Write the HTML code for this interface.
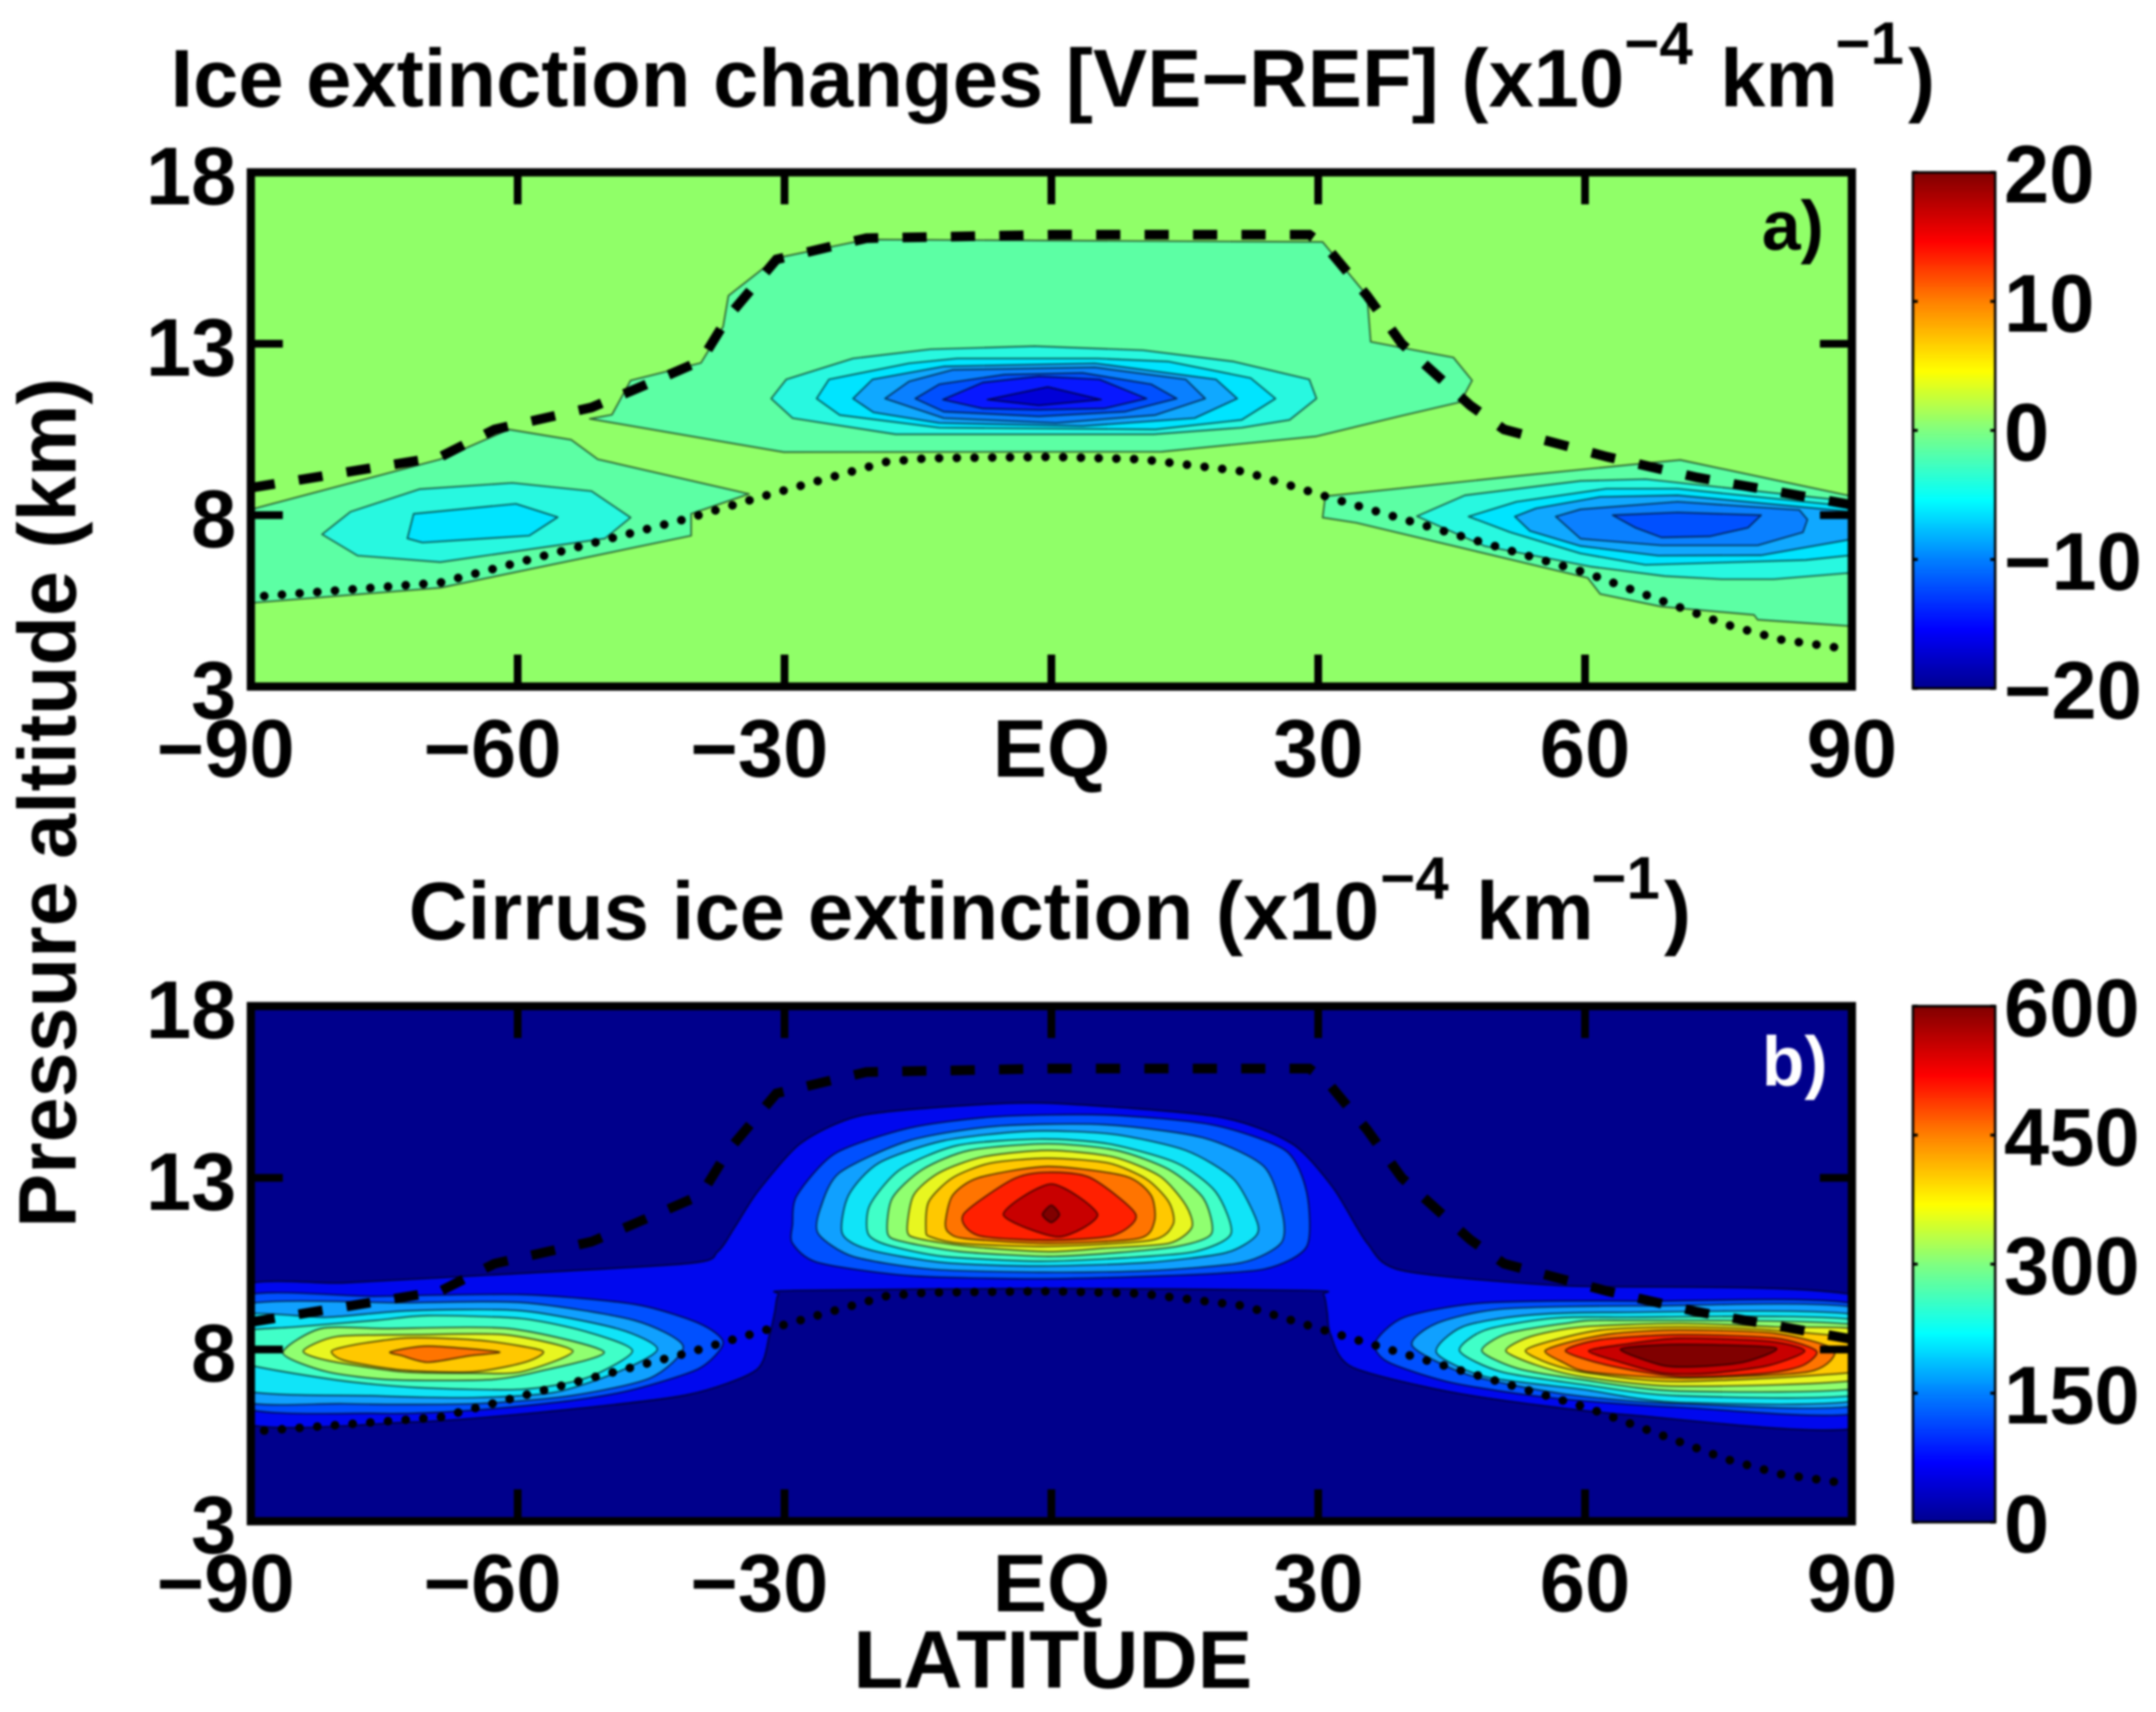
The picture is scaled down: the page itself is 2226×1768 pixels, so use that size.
<!DOCTYPE html>
<html lang="en">
<head>
<meta charset="utf-8">
<title>Ice extinction changes and cirrus ice extinction</title>
<style>
html,body{margin:0;padding:0;background:#fff;width:2226px;height:1768px;overflow:hidden}
svg{display:block;filter:blur(1.1px)}
text{font-family:"Liberation Sans",sans-serif;font-weight:bold;fill:#000;font-size:84px}
.sup{font-size:62px}
</style>
</head>
<body>
<svg id="figure" xmlns="http://www.w3.org/2000/svg" width="2226" height="1768" viewBox="0 0 2226 1768">
  <defs>
    <linearGradient id="jet" x1="0" y1="0" x2="0" y2="1">
      <stop offset="0" stop-color="#800000"/>
      <stop offset="0.135" stop-color="#ff0000"/>
      <stop offset="0.25" stop-color="#ff8000"/>
      <stop offset="0.385" stop-color="#ffff00"/>
      <stop offset="0.5" stop-color="#80ff80"/>
      <stop offset="0.635" stop-color="#00ffff"/>
      <stop offset="0.75" stop-color="#0080ff"/>
      <stop offset="0.885" stop-color="#0000ff"/>
      <stop offset="1" stop-color="#00008f"/>
    </linearGradient>
    <clipPath id="clip-a"><rect x="259" y="178" width="1653" height="531"/></clipPath>
    <clipPath id="clip-b"><rect x="259" y="1039" width="1653" height="532"/></clipPath>
  </defs>

  <g id="panel-a"></g>
  <g id="panel-b"></g>

  <g>
    <text x="176" y="110" textLength="1501" lengthAdjust="spacingAndGlyphs">Ice extinction changes [VE−REF] (x10</text>
    <text class="sup" x="1677" y="66">−4</text>
    <text x="1776" y="110">km</text>
    <text class="sup" x="1895" y="66">−1</text>
    <text x="1970" y="110">)</text>
  </g>
  <g>
    <text x="422" y="970" textLength="1002" lengthAdjust="spacingAndGlyphs">Cirrus ice extinction (x10</text>
    <text class="sup" x="1425" y="928">−4</text>
    <text x="1524" y="970">km</text>
    <text class="sup" x="1643" y="928">−1</text>
    <text x="1718" y="970">)</text>
  </g>
  <text transform="translate(78,1268) rotate(-90)" textLength="878" lengthAdjust="spacingAndGlyphs">Pressure altitude (km)</text>
  <text x="881" y="1743" textLength="412" lengthAdjust="spacingAndGlyphs">LATITUDE</text>
  <text x="1819" y="258" style="font-size:72px">a)</text>
  <text x="1819" y="1121" style="font-size:72px;fill:#fff">b)</text>
</svg>

<script>
// ---- axis values and labels ----
const latTicks = [-60, -30, 0, 30, 60];
const altTicks = [13, 8];
const latLabelValues = [-90, -60, -30, 0, 30, 60, 90];
const latLabelText = ['−90', '−60', '−30', 'EQ', '30', '60', '90'];
const altLabelValues = [18, 13, 8, 3];
const colorbarTicksA = [20, 10, 0, -10, -20];
const colorbarLabelsA = ['20', '10', '0', '−10', '−20'];
const colorbarTicksB = [600, 450, 300, 150, 0];
const colorbarLabelsB = ['600', '450', '300', '150', '0'];

// ---- reference lines (latitude degrees, altitude km) ----
const dashedLat = [-90, -68.7, -62.6, -51.7, -47, -39.4, -36.3, -30.9, -20.8, 0, 29, 31, 35.5, 39.4, 47.1, 50.9, 62.5, 72.6, 90];
const dashedAlt = [8.8, 9.7, 10.5, 11.14, 11.65, 12.5, 13.8, 15.46, 16.08, 16.18, 16.18, 15.8, 14.4, 13.0, 11.2, 10.5, 9.7, 9.1, 8.3];
const dottedLat = [-88.5, -68.7, -40.9, -32.4, -18.5, -13.9, 0, 10.1, 21.7, 31.7, 60.2, 76, 82, 88];
const dottedAlt = [5.64, 6.03, 7.9, 8.55, 9.56, 9.66, 9.7, 9.63, 9.27, 8.48, 6.31, 4.8, 4.37, 4.15];

// ---- panel a contours: flat lat,alt pairs, one list per level ----
const levelsATropics = [-2, -4, -6, -8, -10, -12, -14, -16];
const ringsATropics = [
 [-51.9,10.81,-49.4,10.93,-47.3,11.93,-39.4,12.44,-36.9,13.5,-36.3,14.4,-30.9,15.5,-20.8,16.04,30.5,15.97,35.5,14.4,35.9,13.06,45.2,12.6,47.3,11.93,46,11.3,39.4,10.9,29.8,10.3,12.4,9.85,-30.1,9.84],
 [-31.5,11.4,-29.8,11.96,-22.3,12.57,-13.6,12.84,-1.9,12.93,10.3,12.81,20.5,12.48,29,11.96,29.8,11.4,26.8,10.78,21.4,10.55,11.5,10.36,-17.5,10.36,-29.1,10.83],
 [-26.4,11.4,-25,11.96,-16,12.43,-10.6,12.57,5.2,12.57,13.2,12.48,22.4,12.0,25.2,11.4,21.4,10.78,11.7,10.5,-12.6,10.55,-23.8,10.92],
 [-22.3,11.4,-20.1,11.96,-12.1,12.34,4.9,12.43,18.5,11.96,20.9,11.4,16.1,10.83,3.5,10.6,-12.6,10.69,-20,11.0],
 [-18.7,11.4,-16,11.9,-11.1,12.24,4.9,12.31,15.1,11.96,17.3,11.4,11.7,10.92,0.5,10.69,-12.1,10.83],
 [-15.3,11.4,-12.6,11.82,-5.3,12.1,3.5,12.15,11.2,11.82,14.1,11.4,8.3,11.02,-1.4,10.88,-12.1,11.02],
 [-12.2,11.37,-7.7,11.87,-1.4,12.05,5.4,11.96,10.7,11.4,5.9,11.11,-1.4,11.07,-7.7,11.11],
 [-7.2,11.37,-0.4,11.74,5.6,11.37,-1.4,11.2]
];
const levelsASouth = [-2, -4, -6];
const ringsASouth = [
 [-90,8.1,-89.5,8.2,-68.7,9.63,-61,10.5,-54,10.2,-51,9.63,-34,8.62,-40.5,8.04,-40.5,7.4,-68.7,5.88,-89.5,5.45,-90,5.45],
 [-82,7.44,-78.8,8.1,-71,8.76,-60.6,8.94,-51.7,8.7,-47.3,7.93,-50.2,7.32,-68.7,6.63,-78,6.82],
 [-72.4,7.32,-71.7,8.04,-60.2,8.33,-55.5,7.94,-58.7,7.4,-70.7,7.2]
];
const levelsANorth = [-2, -4, -6, -8, -10, -12];
const ringsANorth = [
 [30.8,8.55,52.3,9.14,65,9.47,70.7,9.61,90,8.55,90,4.76,79.4,4.95,79,5.09,68.6,5.33,61.7,5.7,60.3,6.17,34.25,7.78,30.5,7.93],
 [41.1,7.97,46.5,8.58,59.5,9.0,66.8,9.05,90,8.4,90,6.32,81.2,6.13,75.4,6.13,69,6.22,60.6,6.5,48.7,7.1],
 [46.9,7.96,52.3,8.39,62.4,8.77,70.4,8.77,90,8.25,90,6.83,84.8,6.69,66.8,6.55,59.5,6.88,51.6,7.5],
 [52.1,7.96,54.5,8.2,61.7,8.53,70.4,8.58,90,8.1,90,7.3,79.8,6.83,68.2,6.82,59.5,7.1,53.8,7.54],
 [56.7,7.96,59.5,8.17,70.4,8.39,84.1,8.15,85,7.87,84.5,7.5,79.4,7.12,68.6,7.12,59.5,7.31],
 [63.1,8.0,70.4,8.08,79.8,8.0,78.3,7.63,74,7.38,68.6,7.35,65.7,7.63]
];

// ---- panel b contours ----
const levelsBOuter = [50];
const ringsBOuter = [
 [-92,9.7,-79.6,9.94,-68,10.1,-41,10.5,-37.5,10.85,-35.5,11.6,-33,12.6,-28.2,14,-21.6,14.8,-10,15.1,0,15.17,18.6,14.78,27,14,31.7,12.7,35.5,11.1,39.4,10.3,57.1,9.86,92,9.46,92,5.8,64.9,6.1,46.3,6.7,33.9,7.48,31.4,8.43,31,9.1,30.6,9.6,29,9.72,0,9.78,-29,9.72,-30.7,9.6,-31.1,9.1,-31.7,8.43,-33.2,7.4,-41,6.68,-56.4,6.2,-71.8,5.89,-92,5.97]
];
const levelsBTropics = [100, 150, 200, 250, 300, 350, 400, 450, 500, 550, 600];
const ringsBTropics = [
 [-29.1,11.65,-28.6,12.49,-24.3,13.71,-16,14.45,-6.3,14.78,5.9,14.83,18,14.55,26.3,13.8,28.7,12.58,28.7,11,23.9,10.34,13.2,10.15,-1.4,10.06,-16,10.15,-26.2,10.53,-29.1,11.09],
 [-26.2,11.37,-25.96,12.12,-23.8,13.15,-16,14.08,-6.3,14.5,5.9,14.55,17,14.17,23.9,13.33,26,11.93,25.8,11.09,21.4,10.53,10.7,10.29,-1.4,10.25,-13.6,10.34,-22.3,10.71],
 [-23.5,11.37,-22.8,12.49,-19.4,13.43,-12.1,14.08,-2.4,14.36,6.9,14.27,15.1,13.8,20.5,12.96,23.1,11.74,22.9,11.28,19.5,10.81,10.7,10.53,-1.4,10.43,-12.1,10.53,-20.4,10.9],
 [-20.6,11.37,-20.4,12.21,-17,13.24,-10.6,13.94,-1.4,14.13,6.4,13.99,14.1,13.43,18.5,12.58,20.2,11.37,16.1,10.85,8.3,10.67,-1.4,10.57,-12.1,10.71,-18.4,11.04],
 [-18.4,11.37,-17.9,12.4,-14.5,13.24,-9.2,13.8,-0.4,13.99,7.3,13.8,13.2,13.24,17.1,12.4,18,11.37,14.1,11,6.9,10.81,-0.4,10.71,-10.2,10.85,-16.5,11.13],
 [-16.2,11.46,-15.5,12.49,-12.6,13.15,-7.7,13.61,-0.4,13.8,6.9,13.61,12.2,13.05,15.1,12.21,15.8,11.56,13.2,11.09,5.9,10.95,-0.4,10.85,-9.2,11,-15,11.23],
 [-14.1,11.46,-13.8,12.3,-11.1,13,-6.8,13.43,-0.4,13.57,6.4,13.43,10.7,12.96,13.2,12.3,13.7,11.65,11.2,11.18,-0.4,11,-10.2,11.09,-13.6,11.28],
 [-11.9,11.74,-11.1,12.49,-8.2,13,-0.4,13.33,8.3,13.05,11.2,12.49,11.6,11.74,9.8,11.23,-0.4,11.09,-9.7,11.23,-11.6,11.42],
 [-9.9,11.93,-4.3,12.96,-0.4,13.16,4.4,13,9.5,11.93,6.9,11.32,-0.4,11.18,-8.2,11.32],
 [-5.4,11.93,0,12.82,5.2,11.93,0.8,11.28],
 [-1,11.93,0,12.2,0.9,11.93,0,11.7]
];
const levelsBSouth = [100, 150, 200, 250, 300, 350, 400, 450];
const ringsBSouth = [
 [-92,9.46,-75.9,9.55,-59.6,9.6,-46.9,9.32,-39.6,8.76,-36.9,8.2,-39.6,7.45,-46.9,6.84,-54.1,6.51,-65,6.23,-75.9,6.14,-92,6.42],
 [-92,9.22,-72.3,9.36,-59.2,9.36,-46.9,8.85,-41.4,8.1,-45.1,7.17,-54.1,6.65,-65,6.42,-79.5,6.42,-92,6.6],
 [-92,8.94,-81.4,8.94,-72.3,9.13,-59.6,9.13,-48.7,8.6,-44.3,8.01,-48.7,7.35,-55.9,6.75,-65,6.6,-75.9,6.65,-92,6.89],
 [-92,8.48,-85,8.66,-75.9,8.85,-70.1,8.99,-59.6,8.9,-52.3,8.52,-47.1,7.96,-52.3,7.17,-59.6,6.84,-71.2,6.89,-80.6,7.12,-92,7.68],
 [-86.4,7.9,-82.1,8.61,-74.8,8.61,-61,8.61,-50.3,7.93,-57.8,7.35,-63.2,7.12,-74.1,7.12,-81.4,7.35],
 [-84.1,7.96,-80.3,8.38,-71.2,8.43,-61.4,8.43,-53.8,7.96,-59.6,7.35,-65,7.31,-73,7.35,-81.4,7.68],
 [-80.9,7.96,-78.1,8.15,-73,8.33,-68.7,8.33,-63.2,8.24,-57.2,7.96,-59.2,7.63,-65,7.35,-73,7.4,-79.5,7.68],
 [-74.3,7.93,-70.1,8.1,-62.1,7.93,-65.4,7.82,-70.1,7.63,-73,7.82]
];
const levelsBNorth = [100, 150, 200, 250, 300, 350, 400, 450, 500, 550, 600];
const ringsBNorth = [
 [36.4,8.19,39.7,8.94,48.8,9.36,66.9,9.41,92,9.22,92,6.23,70.6,6.32,56,6.6,45.1,7.03,37.9,7.63],
 [40.6,8.1,43.3,8.76,50.6,9.18,66.9,9.27,92,9.13,92,6.46,70.6,6.42,57.8,6.7,46.9,7.26],
 [43.3,7.91,46.2,8.66,53.1,8.99,63.3,9.08,92,8.94,92,6.6,70.6,6.46,59.7,6.84,48.8,7.21],
 [45.9,7.96,48.8,8.57,56,8.9,63.3,8.94,92,8.8,92,6.75,70.6,6.65,59.7,6.98,50.6,7.35],
 [48.4,7.96,51.3,8.47,57.8,8.76,63.3,8.85,92,8.66,92,6.93,70.6,6.79,59.7,7.12,52.4,7.45],
 [51.1,7.96,53.9,8.38,59.7,8.66,70.6,8.76,81.4,8.66,92,8.52,92,7.17,70.6,6.93,59.7,7.21,54.6,7.54],
 [53.3,7.96,56,8.24,61.8,8.57,70.6,8.66,80.7,8.57,92,8.24,92,7.4,70.6,7.07,60.4,7.31,56,7.59],
 [55.5,7.96,58.6,8.24,63.3,8.47,70.6,8.57,81.4,8.47,88,8.0,85.1,7.35,70.6,7.17,60.4,7.35,57.5,7.63],
 [57.8,7.96,61.8,8.29,70.6,8.43,81.4,8.33,86,7.96,84.5,7.54,80.4,7.31,70.6,7.21,62.6,7.54],
 [60.4,7.96,64.4,8.15,70.6,8.33,80.7,8.24,84.7,7.96,80.7,7.54,74.2,7.31,68.7,7.31,64,7.63],
 [64,8.01,70.6,8.15,81.4,8.05,77.8,7.63,72.4,7.5,68.7,7.54]
];

// ---- level to colour lookups ----
const paletteLevelsA = [-2, -4, -6, -8, -10, -12, -14, -16];
const paletteColorsA = ['#5cffa4', '#28f8e0', '#00e4ff', '#10a8ff', '#0a80ff', '#0050ff', '#0818ff', '#0000d8'];
const paletteLevelsB = [50, 100, 150, 200, 250, 300, 350, 400, 450, 500, 550, 600];
const paletteColorsB = ['#0008ee', '#0050ff', '#10a0ff', '#10e4f8', '#40ffc8', '#90ff70', '#e8f620', '#ffc800', '#ff7400', '#ff2000', '#c80000', '#800000'];

// ---- axis functions ----
const plotLeft = 259, plotRight = 1912;
function xScale(lat) { return plotLeft + (lat + 90) / 180 * (plotRight - plotLeft); }
function yScaleA(alt) { return 709 - (alt - 3) / 15 * 531; }
function yScaleB(alt) { return 1571 - (alt - 3) / 15 * 532; }
function cbScaleA(v) { return 711 - (v + 20) / 40 * 533; }
function cbScaleB(v) { return 1572 - v / 600 * 533; }

const NS = 'http://www.w3.org/2000/svg';
function mk(tag, parent) {
  const el = document.createElementNS(NS, tag);
  parent.appendChild(el);
  return el;
}
function ringPath(pairs, yScale, smooth) {
  const pts = [];
  for (let i = 0; i < pairs.length; i += 2) pts.push([xScale(pairs[i]), yScale(pairs[i + 1])]);
  const n = pts.length;
  let d = 'M' + pts[0][0].toFixed(1) + ' ' + pts[0][1].toFixed(1);
  for (let i = 0; i < n; i++) {
    const p0 = pts[(i - 1 + n) % n], p1 = pts[i], p2 = pts[(i + 1) % n], p3 = pts[(i + 2) % n];
    if (smooth) {
      const k = 0.75 / 6;
      d += 'C' + (p1[0] + (p2[0] - p0[0]) * k).toFixed(1) + ' ' + (p1[1] + (p2[1] - p0[1]) * k).toFixed(1) + ' ' +
           (p2[0] - (p3[0] - p1[0]) * k).toFixed(1) + ' ' + (p2[1] - (p3[1] - p1[1]) * k).toFixed(1) + ' ' +
           p2[0].toFixed(1) + ' ' + p2[1].toFixed(1);
    } else {
      d += 'L' + p2[0].toFixed(1) + ' ' + p2[1].toFixed(1);
    }
  }
  return d + 'Z';
}
function linePath(lats, alts, yScale) {
  return lats.map(function (lat, i) {
    return (i ? 'L' : 'M') + xScale(lat).toFixed(1) + ' ' + yScale(alts[i]).toFixed(1);
  }).join('');
}

function drawRings(parent, levels, rings, yScale, smooth, palLevels, palColors) {
  rings.forEach(function (pairs, i) {
    const p = mk('path', parent);
    
    
    p.setAttribute('d', ringPath(pairs, yScale, smooth));
    p.setAttribute('fill', palColors[palLevels.indexOf(levels[i])]);
    p.setAttribute('stroke', '#000');
    p.setAttribute('stroke-opacity', '0.6');
    p.setAttribute('stroke-width', '1.7');
    p.setAttribute('stroke-linejoin', 'round');
  });
}

function drawPanel(root, clipId, bg, yScale, top, bottom, drawContours, cbScale, cbTicks, cbLabels) {
  // background
  const bgRect = mk('rect', root);
  
  
  bgRect.setAttribute('x', plotLeft);
  bgRect.setAttribute('y', top);
  bgRect.setAttribute('width', plotRight - plotLeft);
  bgRect.setAttribute('height', bottom - top);
  bgRect.setAttribute('fill', bg);

  const clip = mk('g', root);
  
  
  clip.setAttribute('clip-path', 'url(#' + clipId + ')');
  drawContours(clip);

  const dashed = mk('path', clip);
  
  
  dashed.setAttribute('d', linePath(dashedLat, dashedAlt, yScale));
  dashed.setAttribute('fill', 'none');
  dashed.setAttribute('stroke', '#000');
  dashed.setAttribute('stroke-width', '10');
  dashed.setAttribute('stroke-dasharray', '25 25');

  const dotted = mk('path', clip);
  
  
  dotted.setAttribute('d', linePath(dottedLat, dottedAlt, yScale));
  dotted.setAttribute('fill', 'none');
  dotted.setAttribute('stroke', '#000');
  dotted.setAttribute('stroke-width', '9');
  dotted.setAttribute('stroke-linecap', 'round');
  dotted.setAttribute('stroke-dasharray', '0.01 18.3');

  // inner ticks
  latTicks.forEach(function (lat) {
    [[top, top + 33], [bottom, bottom - 33]].forEach(function (ends) {
      const t = mk('line', root);
      
      
      t.setAttribute('x1', xScale(lat));
      t.setAttribute('x2', xScale(lat));
      t.setAttribute('y1', ends[0]);
      t.setAttribute('y2', ends[1]);
      t.setAttribute('stroke', '#000');
      t.setAttribute('stroke-width', '8');
    });
  });
  altTicks.forEach(function (alt) {
    [[plotLeft, plotLeft + 33], [plotRight, plotRight - 33]].forEach(function (ends) {
      const t = mk('line', root);
      
      
      t.setAttribute('x1', ends[0]);
      t.setAttribute('x2', ends[1]);
      t.setAttribute('y1', yScale(alt));
      t.setAttribute('y2', yScale(alt));
      t.setAttribute('stroke', '#000');
      t.setAttribute('stroke-width', '8');
    });
  });

  // frame
  const frame = mk('rect', root);
  
  
  frame.setAttribute('x', plotLeft);
  frame.setAttribute('y', top);
  frame.setAttribute('width', plotRight - plotLeft);
  frame.setAttribute('height', bottom - top);
  frame.setAttribute('fill', 'none');
  frame.setAttribute('stroke', '#000');
  frame.setAttribute('stroke-width', '8.5');

  // tick labels
  latLabelValues.forEach(function (lat, i) {
    const lb = mk('text', root);
    
    
    lb.setAttribute('x', xScale(lat) - (lat < 0 ? 26 : 0));
    lb.setAttribute('y', bottom + 93);
    lb.setAttribute('text-anchor', 'middle');
    lb.textContent = latLabelText[i];
  });
  altLabelValues.forEach(function (alt) {
    const lb = mk('text', root);
    
    
    lb.setAttribute('x', 244);
    lb.setAttribute('y', yScale(alt) + 33);
    lb.setAttribute('text-anchor', 'end');
    lb.textContent = String(alt);
  });

  // colorbar
  const cbTop = cbScale(cbTicks[0]);
  const cbBottom = cbScale(cbTicks[cbTicks.length - 1]);
  const cb = mk('rect', root);
  
  
  cb.setAttribute('x', 1975);
  cb.setAttribute('y', cbTop);
  cb.setAttribute('width', 85);
  cb.setAttribute('height', cbBottom - cbTop);
  cb.setAttribute('fill', 'url(#jet)');
  cb.setAttribute('stroke', '#000');
  cb.setAttribute('stroke-width', '2.5');
  cbTicks.forEach(function (v, i) {
    [[1975, 1980], [2060, 2055]].forEach(function (ends) {
      const t = mk('line', root);
      
      
      t.setAttribute('x1', ends[0]);
      t.setAttribute('x2', ends[1]);
      t.setAttribute('y1', cbScale(v));
      t.setAttribute('y2', cbScale(v));
      t.setAttribute('stroke', '#000');
      t.setAttribute('stroke-width', '3');
    });
    const lb = mk('text', root);
    
    
    lb.setAttribute('x', 2069);
    lb.setAttribute('y', cbScale(v) + 31);
    lb.textContent = cbLabels[i];
  });
}

drawPanel(document.getElementById('panel-a'), 'clip-a', '#90ff68', yScaleA, 178, 709, function (g) {
  drawRings(g, levelsATropics, ringsATropics, yScaleA, false, paletteLevelsA, paletteColorsA);
  drawRings(g, levelsASouth, ringsASouth, yScaleA, false, paletteLevelsA, paletteColorsA);
  drawRings(g, levelsANorth, ringsANorth, yScaleA, false, paletteLevelsA, paletteColorsA);
}, cbScaleA, colorbarTicksA, colorbarLabelsA);

drawPanel(document.getElementById('panel-b'), 'clip-b', '#00008c', yScaleB, 1039, 1571, function (g) {
  drawRings(g, levelsBOuter, ringsBOuter, yScaleB, true, paletteLevelsB, paletteColorsB);
  drawRings(g, levelsBTropics, ringsBTropics, yScaleB, true, paletteLevelsB, paletteColorsB);
  drawRings(g, levelsBSouth, ringsBSouth, yScaleB, true, paletteLevelsB, paletteColorsB);
  drawRings(g, levelsBNorth, ringsBNorth, yScaleB, true, paletteLevelsB, paletteColorsB);
}, cbScaleB, colorbarTicksB, colorbarLabelsB);
</script>
</body>
</html>
